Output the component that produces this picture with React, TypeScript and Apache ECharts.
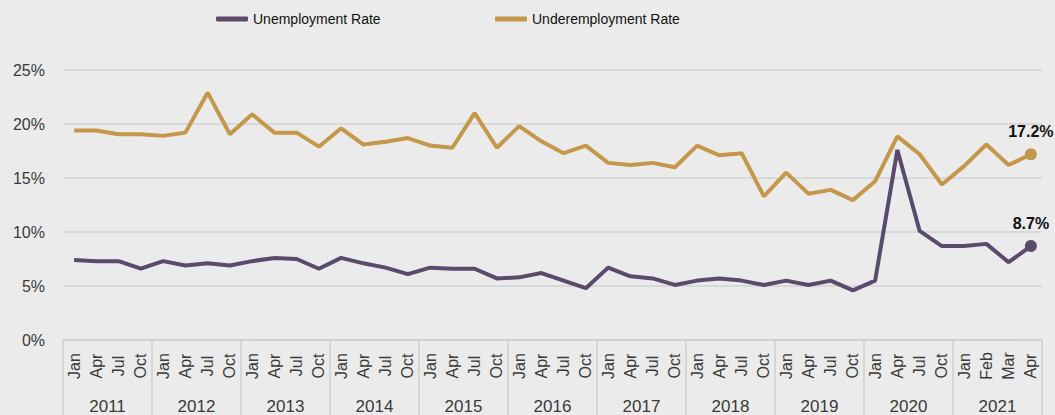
import React, { useEffect, useRef } from "react";
import * as echarts from "echarts";

const years = ["2011", "2012", "2013", "2014", "2015", "2016", "2017", "2018", "2019", "2020", "2021"];
const quarterMonths = ["Jan", "Apr", "Jul", "Oct"];
const lastYearMonths = ["Jan", "Feb", "Mar", "Apr"];
const monthLabels: string[] = [
  ...years.slice(0, 10).flatMap(() => quarterMonths),
  ...lastYearMonths,
];

const unemploymentRate = [
  7.4, 7.3, 7.3, 6.6,
  7.3, 6.9, 7.1, 6.9,
  7.3, 7.6, 7.5, 6.6,
  7.6, 7.1, 6.7, 6.1,
  6.7, 6.6, 6.6, 5.7,
  5.8, 6.2, 5.5, 4.8,
  6.7, 5.9, 5.7, 5.1,
  5.5, 5.7, 5.5, 5.1,
  5.5, 5.1, 5.5, 4.6,
  5.5, 17.6, 10.1, 8.7,
  8.7, 8.9, 7.2, 8.7,
];

const underemploymentRate = [
  19.4, 19.4, 19.05, 19.05,
  18.9, 19.2, 22.9, 19.05,
  20.9, 19.2, 19.2, 17.9,
  19.6, 18.1, 18.35, 18.7,
  18.0, 17.8, 21.0, 17.8,
  19.8, 18.4, 17.3, 18.0,
  16.4, 16.2, 16.4, 16.0,
  18.0, 17.1, 17.3, 13.3,
  15.5, 13.55, 13.9, 12.95,
  14.7, 18.85, 17.2, 14.4,
  16.1, 18.1, 16.2, 17.2,
];

const yTicks = { min: 0, max: 25, interval: 5 };

const PURPLE = "#5a4a6b";
const GOLD = "#c4974a";
const FONT = "'Liberation Sans', Arial, Helvetica, sans-serif";

function withEndLabel(values: number[], labels: string[]) {
  return values.map((v, i) =>
    i === values.length - 1
      ? { value: v, label: { show: true, formatter: labels[0] } }
      : v
  );
}

export default function App() {
  const ref = useRef<HTMLDivElement>(null);

  useEffect(() => {
    if (!ref.current) return;
    const chart = echarts.init(ref.current, null, { renderer: "svg" });
    const last = monthLabels.length - 1;
    const endSymbol = (_v: any, p: any) => (p.dataIndex === last ? 12 : 0);
    const legendText = { fontFamily: FONT, fontSize: 14, color: "#111" };

    chart.setOption({
      animation: false,
      backgroundColor: "#ebebeb",
      legend: [
        {
          data: [{ name: "Unemployment Rate", icon: "roundRect" }],
          left: 211,
          top: 7,
          itemWidth: 32,
          itemHeight: 5,
          textStyle: legendText,
        },
        {
          data: [{ name: "Underemployment Rate", icon: "roundRect" }],
          left: 490,
          top: 7,
          itemWidth: 32,
          itemHeight: 5,
          textStyle: legendText,
        },
      ],
      grid: { left: 63, right: 13, top: 70, bottom: 74, containLabel: false },
      xAxis: [
        {
          type: "category",
          data: monthLabels,
          boundaryGap: true,
          axisLine: { show: true, lineStyle: { color: "#cfcfcf", width: 1.5 } },
          axisTick: { show: false },
          axisLabel: {
            interval: 0,
            rotate: 90,
            align: "center",
            verticalAlign: "middle",
            margin: 26,
            fontFamily: FONT,
            fontSize: 16,
            color: "#3a3a3a",
          },
        },
        {
          type: "category",
          data: years,
          position: "bottom",
          boundaryGap: true,
          axisLine: { show: false },
          axisTick: {
            show: true,
            interval: 0,
            length: 80,
            lineStyle: { color: "#cfcfcf", width: 1.5 },
          },
          axisLabel: {
            interval: 0,
            margin: 58,
            fontFamily: FONT,
            fontSize: 17,
            color: "#3a3a3a",
          },
        },
      ],
      yAxis: {
        type: "value",
        min: yTicks.min,
        max: yTicks.max,
        interval: yTicks.interval,
        axisLine: { show: false },
        axisTick: { show: false },
        splitLine: { lineStyle: { color: "#d2d2d2", width: 1.5 } },
        axisLabel: {
          formatter: "{value}%",
          margin: 18,
          fontFamily: FONT,
          fontSize: 16,
          color: "#3a3a3a",
        },
      },
      series: [
        {
          name: "Unemployment Rate",
          type: "line",
          xAxisIndex: 0,
          data: withEndLabel(unemploymentRate, ["8.7%"]),
          symbol: "circle",
          symbolSize: endSymbol,
          showSymbol: true,
          lineStyle: { color: PURPLE, width: 4 },
          itemStyle: { color: PURPLE },
          label: {
            show: false,
            position: "top",
            distance: 9,
            fontFamily: FONT,
            fontSize: 16,
            fontWeight: "bold",
            color: "#111",
          },
          z: 3,
        },
        {
          name: "Underemployment Rate",
          type: "line",
          xAxisIndex: 0,
          data: withEndLabel(underemploymentRate, ["17.2%"]),
          symbol: "circle",
          symbolSize: endSymbol,
          showSymbol: true,
          lineStyle: { color: GOLD, width: 4 },
          itemStyle: { color: GOLD },
          label: {
            show: false,
            position: "top",
            distance: 9,
            fontFamily: FONT,
            fontSize: 16,
            fontWeight: "bold",
            color: "#111",
          },
          z: 2,
        },
      ],
    });

    return () => chart.dispose();
  }, []);

  return (
    <div
      ref={ref}
      style={{ position: "fixed", left: 0, top: 0, width: 1055, height: 415 }}
    />
  );
}
